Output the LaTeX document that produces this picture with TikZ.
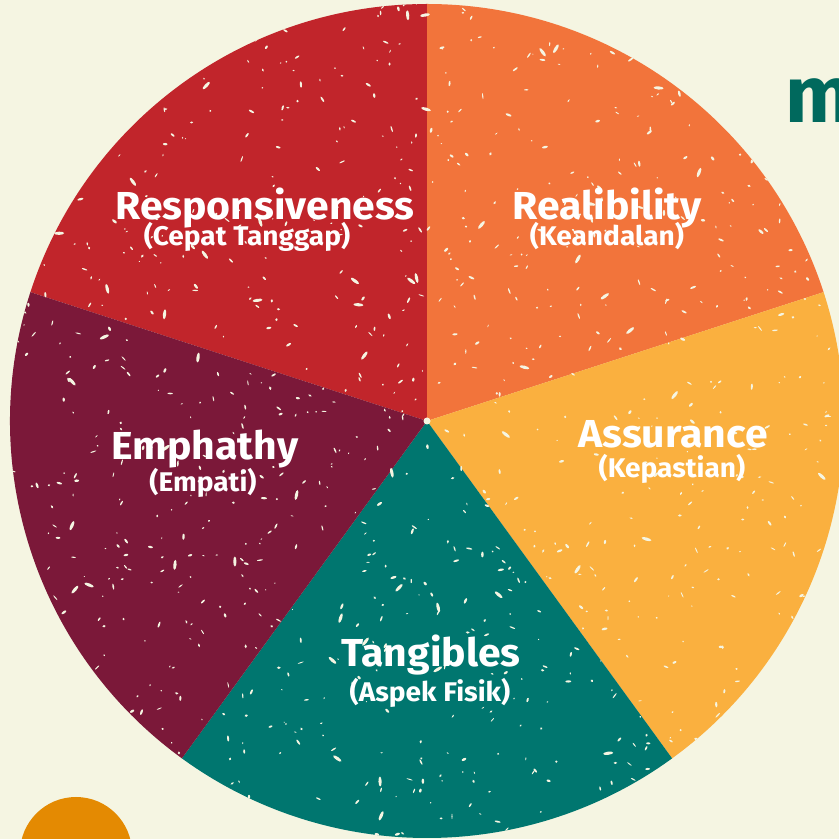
\documentclass[tikz,border=0pt]{standalone}
\usepackage{fontspec}
\setmainfont{Fira Sans}
\begin{document}
\begin{tikzpicture}[x=1pt,y=1pt,
  title/.style={text=white,font=\fontsize{39}{39}\selectfont\bfseries\addfontfeature{FakeStretch=1.05},inner sep=0pt,anchor=base},
  subtitle/.style={text=white,font=\fontsize{27}{27}\selectfont\bfseries\addfontfeature{FakeStretch=1.04},inner sep=0pt,anchor=base},
  speck/.style={fill=bgcream}]
\definecolor{bgcream}{HTML}{F5F5E2}
\definecolor{slicered}{HTML}{C1252B}
\definecolor{sliceorange}{HTML}{F2743B}
\definecolor{sliceyellow}{HTML}{FAB03F}
\definecolor{sliceteal}{HTML}{00766F}
\definecolor{slicemaroon}{HTML}{7B1839}
\definecolor{dotorange}{HTML}{E48A02}
\definecolor{markteal}{HTML}{00695D}

% page and background
\fill[bgcream] (0,0) rectangle (839,839);
\useasboundingbox (0,0) rectangle (839,839);

% brand letter, cut by the right edge
\node[text=markteal,font=\fontsize{80}{80}\selectfont\bfseries,inner sep=0pt,anchor=base west] (mark) at (785,716) {m};

% orange dot at the bottom left
\fill[dotorange] (76,-14) circle (56);

% pie of five equal slices
\coordinate (c) at (427,418);
\def\R{417}
\fill[slicered]    (c) -- ++(90:\R)  arc (90:162:\R)  -- cycle;
\fill[sliceorange] (c) -- ++(18:\R)  arc (18:90:\R)   -- cycle;
\fill[sliceyellow] (c) -- ++(-54:\R) arc (-54:18:\R)  -- cycle;
\fill[sliceteal]   (c) -- ++(-126:\R) arc (-126:-54:\R) -- cycle;
\fill[slicemaroon] (c) -- ++(162:\R) arc (162:234:\R) -- cycle;

% worn print texture
\begin{scope}
  \clip (c) circle (\R);
  \pgfmathsetseed{4242}
  \foreach \i in {1,...,1100}{
    \pgfmathsetmacro\px{10+820*rnd}
    \pgfmathsetmacro\py{2+834*rnd}
    \pgfmathsetmacro\pa{0.6+2.6*rnd}
    \pgfmathsetmacro\pb{0.5+0.8*rnd}
    \pgfmathsetmacro\pr{360*rnd}
    \fill[speck,rotate around={\pr:(\px,\py)}] (\px,\py) ellipse ({\pa} and {\pb});
  }
  \foreach \i in {1,...,60}{
    \pgfmathsetmacro\px{10+820*rnd}
    \pgfmathsetmacro\py{2+834*rnd}
    \pgfmathsetmacro\pr{360*rnd}
    \fill[speck,rotate around={\pr:(\px,\py)}] (\px,\py) ellipse (5 and 1.6);
  }
  \fill[speck] (c) circle (3.5);
\end{scope}

% labels
\node[title]    (resp)  at (265,619) {Responsiveness};
\node[subtitle] (respS) at (247,593) {(Cepat Tanggap)};
\node[title]    (real)  at (607,619) {Realibility};
\node[subtitle] (realS) at (607,593) {(Keandalan)};
\node[title]    (assu)  at (673,391) {Assurance};
\node[subtitle] (assuS) at (672,361) {(Kepastian)};
\node[title]    (emph)  at (205,379) {Emphathy};
\node[subtitle] (emphS) at (203,347) {(Empati)};
\node[title]    (tang)  at (431,172) {Tangibles};
\node[subtitle] (tangS) at (430,137) {(Aspek Fisik)};
\end{tikzpicture}
\end{document}
